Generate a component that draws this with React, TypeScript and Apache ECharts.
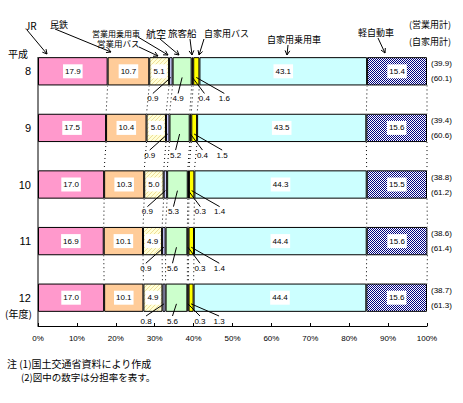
import React, { useEffect, useRef } from 'react';
import * as echarts from 'echarts';

// 平成 fiscal years
const years = ['8', '9', '10', '11', '12'];
// segment values (%)
const jr = [17.9, 17.5, 17.0, 16.9, 17.0];
const mintetsu = [10.7, 10.4, 10.3, 10.1, 10.1];
const eigyoBus = [5.1, 5.0, 5.0, 4.9, 4.9];
const eigyoCar = [0.9, 0.9, 0.9, 0.9, 0.8];
const koku = [4.9, 5.2, 5.3, 5.6, 5.6];
const ryokakusen = [0.4, 0.4, 0.3, 0.3, 0.3];
const jikaBus = [1.6, 1.5, 1.4, 1.4, 1.3];
const jikaCar = [43.1, 43.5, 44.3, 44.4, 44.4];
const kei = [15.4, 15.6, 15.5, 15.6, 15.6];
// totals shown on the right
const eigyoTotal = ['39.9', '39.4', '38.8', '38.6', '38.7'];
const jikaTotal = ['60.1', '60.6', '61.2', '61.4', '61.3'];
const xTicks = [0, 10, 20, 30, 40, 50, 60, 70, 80, 90, 100];

const segData = [jr, mintetsu, eigyoBus, eigyoCar, koku, ryokakusen, jikaBus, jikaCar, kei];
const segNames = ['JR', '民鉄', '営業用バス', '営業用乗用車', '航空', '旅客船', '自家用バス', '自家用乗用車', '軽自動車'];

const JP = '"Noto Sans CJK JP", sans-serif';
const NUM = '"Liberation Sans", Arial, sans-serif';

function cumBefore(k: number, r: number) {
  let s = 0;
  for (let i = 0; i < k; i++) s += segData[i][r];
  return s;
}

function arrow(x1: number, y1: number, x2: number, y2: number) {
  const ang = Math.atan2(y2 - y1, x2 - x1);
  const L = 5, a = 0.5;
  const h1 = [x2 - L * Math.cos(ang - a), y2 - L * Math.sin(ang - a)];
  const h2 = [x2 - L * Math.cos(ang + a), y2 - L * Math.sin(ang + a)];
  return [
    { type: 'line', shape: { x1, y1, x2, y2 }, style: { stroke: '#000', lineWidth: 1 } },
    { type: 'polyline', shape: { points: [h1, [x2, y2], h2] }, style: { stroke: '#000', lineWidth: 1, fill: null } },
  ];
}

function txt(x: number, y: number, text: string, fontSize: number, align = 'left', family = JP) {
  return {
    type: 'text', x, y,
    style: {
      text, fontSize, fontFamily: family, fill: '#000',
      textAlign: align, textVerticalAlign: 'middle', align, verticalAlign: 'middle',
    },
  };
}

export default function App() {
  const ref = useRef<HTMLDivElement>(null);
  useEffect(() => {
    document.body.style.margin = '0';
    const chart = echarts.init(ref.current!, null, { renderer: 'svg' });

    const checker = document.createElement('canvas');
    checker.width = 2; checker.height = 2;
    const c1 = checker.getContext('2d')!;
    c1.fillStyle = '#ffffff'; c1.fillRect(0, 0, 2, 2);
    c1.fillStyle = '#000080'; c1.fillRect(0, 0, 1, 1); c1.fillRect(1, 1, 1, 1);

    const hatch = document.createElement('canvas');
    hatch.width = 4; hatch.height = 4;
    const c2 = hatch.getContext('2d')!;
    c2.fillStyle = '#FFFFD8'; c2.fillRect(0, 0, 4, 4);
    c2.fillStyle = '#EEDD99';
    for (let i = 0; i < 4; i++) c2.fillRect(3 - i, i, 1, 1);

    const colors: any[] = [
      '#FF99CC', '#FFCC99', { image: hatch, repeat: 'repeat' }, '#CCCCFF', '#CCFFCC',
      '#FF6666', '#FFFF00', '#CCFFFF', { image: checker, repeat: 'repeat' },
    ];
    const inside = [true, true, true, false, false, false, false, true, true];

    const barSeries = segData.map((d, k) => ({
      type: 'bar',
      name: segNames[k],
      stack: 'total',
      data: d,
      barWidth: '50%',
      itemStyle: { color: colors[k], borderColor: '#000', borderWidth: 1 },
      label: {
        show: inside[k],
        position: 'inside',
        formatter: (p: any) => Number(p.value).toFixed(1),
        fontSize: 8,
        fontFamily: NUM,
        color: '#000',
        backgroundColor: '#fff',
        padding: [3, 2, 3, 2],
      },
      emphasis: { disabled: true },
    }));

    const seriesLines = {
      type: 'custom',
      coordinateSystem: 'cartesian2d',
      data: years.slice(0, -1).map((_, i) => [0, i]),
      z: 5,
      renderItem: (params: any, api: any) => {
        const r = params.dataIndex;
        const halfH = api.size([0, 1])[1] * 0.25;
        const children: any[] = [];
        for (let k = 1; k <= segData.length; k++) {
          const a = api.coord([cumBefore(k, r), r]);
          const b = api.coord([cumBefore(k, r + 1), r + 1]);
          children.push({
            type: 'line',
            shape: { x1: a[0], y1: a[1] + halfH, x2: b[0], y2: b[1] - halfH },
            style: { stroke: '#000', lineWidth: 1, lineDash: [1, 3] },
          });
        }
        return { type: 'group', children };
      },
    };

    const leaderIdx = [3, 4, 5, 6];
    const leaderDx = [-18, -4, 12, 28];
    const notes = {
      type: 'custom',
      coordinateSystem: 'cartesian2d',
      data: years.map((_, i) => [100, i]),
      z: 6,
      renderItem: (params: any, api: any) => {
        const r = params.dataIndex;
        const band = api.size([0, 1])[1];
        const halfH = band * 0.25;
        const axisBottom = api.coord([0, years.length - 1])[1] + band / 2;
        const children: any[] = [];
        leaderIdx.forEach((k, j) => {
          const v = segData[k][r];
          const c = api.coord([cumBefore(k, r) + v / 2, r]);
          const bottom = c[1] + halfH;
          const tx = c[0] + leaderDx[j];
          const ty = Math.min(bottom + 13, axisBottom - 5);
          children.push({
            type: 'line',
            shape: { x1: tx, y1: ty - 5, x2: c[0], y2: bottom - 8 },
            style: { stroke: '#000', lineWidth: 1 },
          });
          children.push({
            type: 'text', x: tx, y: ty,
            style: {
              text: v.toFixed(1), fontSize: 8, fontFamily: NUM, fill: '#000',
              textAlign: 'center', textVerticalAlign: 'middle', align: 'center', verticalAlign: 'middle',
            },
          });
        });
        const p = api.coord([100, r]);
        children.push({
          type: 'text', x: p[0] + 4, y: p[1] - 7.5,
          style: {
            text: '(' + eigyoTotal[r] + ')', fontSize: 8, fontFamily: NUM, fill: '#000',
            textAlign: 'left', textVerticalAlign: 'middle', align: 'left', verticalAlign: 'middle',
          },
        });
        children.push({
          type: 'text', x: p[0] + 4, y: p[1] + 7.5,
          style: {
            text: '(' + jikaTotal[r] + ')', fontSize: 8, fontFamily: NUM, fill: '#000',
            textAlign: 'left', textVerticalAlign: 'middle', align: 'left', verticalAlign: 'middle',
          },
        });
        return { type: 'group', children };
      },
    };

    const graphics: any[] = [
      { type: 'line', shape: { x1: 38, y1: 57, x2: 38, y2: 326 }, style: { stroke: '#000', lineWidth: 1 } },
      txt(8, 53, '平成', 10),
      txt(5, 313, '(年度)', 10),
      txt(25, 25, 'JR', 10),
      txt(50, 24, '民鉄', 9),
      txt(92, 33, '営業用乗用車', 8),
      txt(97, 43, '営業用バス', 8.5),
      txt(146, 33, '航空', 10),
      txt(168, 33, '旅客船', 9.5),
      txt(204, 33, '自家用バス', 9),
      txt(267, 39, '自家用乗用車', 9),
      txt(358, 32, '軽自動車', 9),
      txt(409, 24, '(営業用計)', 9),
      txt(409, 41, '(自家用計)', 9),
      txt(7, 363, '注 (1)国土交通省資料により作成', 10),
      txt(21, 377, '(2)図中の数字は分担率を表す。', 9.5),
      ...arrow(27, 30, 47, 54),
      ...arrow(55, 29, 111, 52),
      ...arrow(138, 37, 168, 55),
      ...arrow(139, 47, 158, 56),
      ...arrow(160, 39, 179, 55),
      ...arrow(190, 39, 192, 55),
      ...arrow(204, 39, 199, 55),
      ...arrow(288, 45, 287, 55),
      ...arrow(378, 38, 385, 53),
    ];

    chart.setOption({
      animation: false,
      backgroundColor: '#ffffff',
      grid: { left: 38, right: 36, top: 43, bottom: 77, containLabel: false },
      xAxis: {
        type: 'value',
        min: 0, max: 100, interval: 10,
        axisLine: { show: true, lineStyle: { color: '#000', width: 1 } },
        axisTick: { show: true, inside: true, length: 3, lineStyle: { color: '#000' } },
        axisLabel: {
          fontSize: 8, fontFamily: NUM, color: '#000', margin: 8,
          formatter: (v: number) => (xTicks.includes(v) ? v + '%' : ''),
        },
        splitLine: { show: false },
      },
      yAxis: {
        type: 'category',
        data: years,
        inverse: true,
        axisLine: { show: false },
        axisTick: { show: false },
        axisLabel: { fontSize: 11, fontFamily: NUM, color: '#000', margin: 7 },
      },
      series: [...barSeries, seriesLines, notes],
      graphic: { elements: graphics },
    } as any);

    return () => chart.dispose();
  }, []);
  return <div ref={ref} style={{ width: 463, height: 403, background: '#fff' }} />;
}
